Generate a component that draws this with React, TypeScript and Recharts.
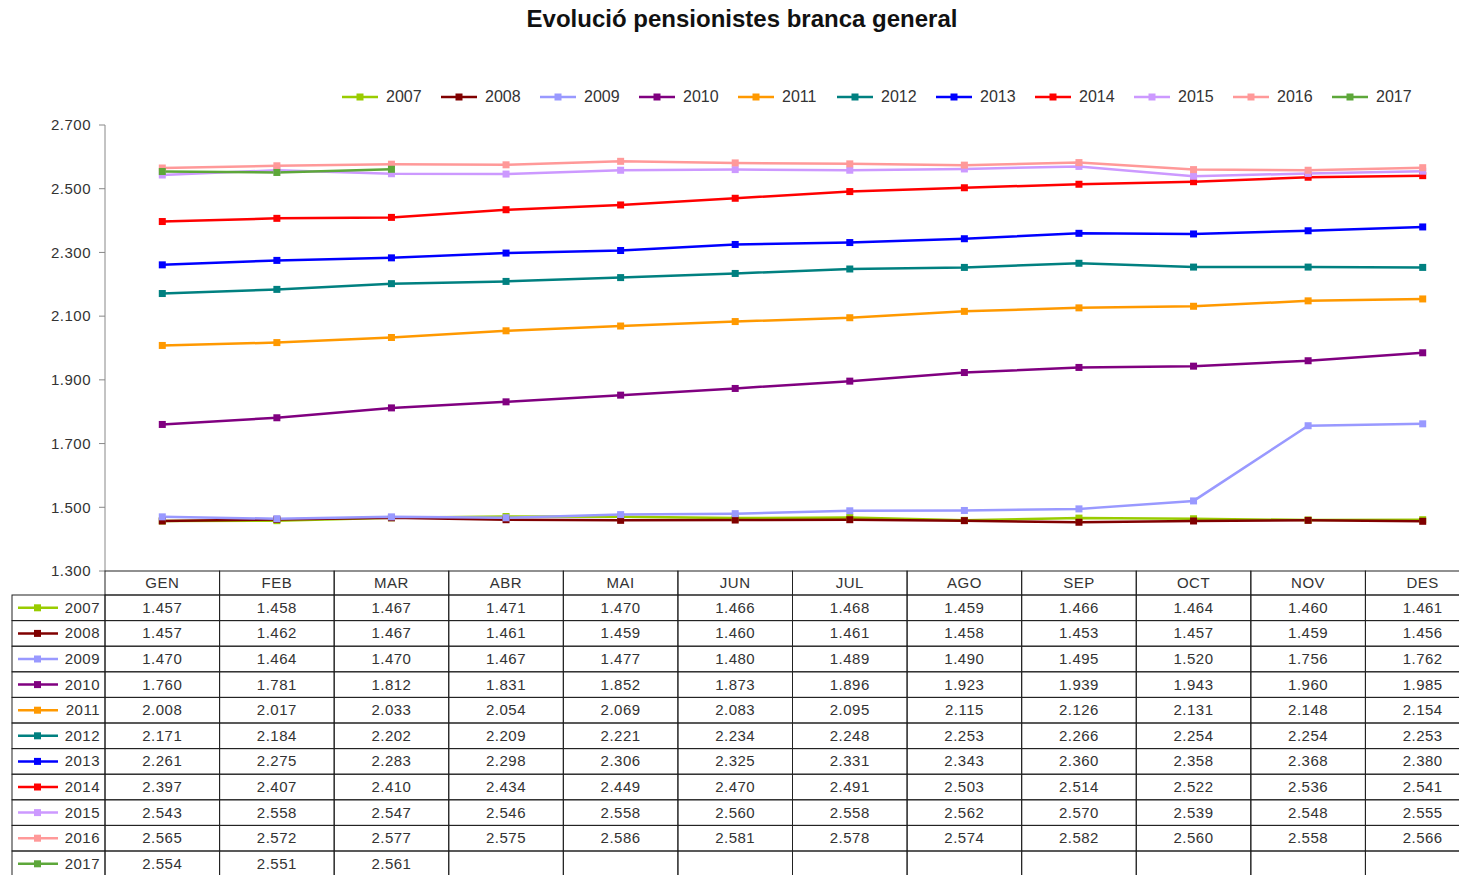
import React from 'react';
import { LineChart, Line, XAxis, YAxis, Legend } from 'recharts';

const months = ['GEN', 'FEB', 'MAR', 'ABR', 'MAI', 'JUN', 'JUL', 'AGO', 'SEP', 'OCT', 'NOV', 'DES'];
const years = ['2007', '2008', '2009', '2010', '2011', '2012', '2013', '2014', '2015', '2016', '2017'];
const colors = ['#99CC00', '#800000', '#9999FF', '#800080', '#FF9900', '#008080', '#0000FF', '#FF0000', '#CC99FF', '#FF9999', '#5DA73A'];

const v2007 = [1457, 1458, 1467, 1471, 1470, 1466, 1468, 1459, 1466, 1464, 1460, 1461];
const v2008 = [1457, 1462, 1467, 1461, 1459, 1460, 1461, 1458, 1453, 1457, 1459, 1456];
const v2009 = [1470, 1464, 1470, 1467, 1477, 1480, 1489, 1490, 1495, 1520, 1756, 1762];
const v2010 = [1760, 1781, 1812, 1831, 1852, 1873, 1896, 1923, 1939, 1943, 1960, 1985];
const v2011 = [2008, 2017, 2033, 2054, 2069, 2083, 2095, 2115, 2126, 2131, 2148, 2154];
const v2012 = [2171, 2184, 2202, 2209, 2221, 2234, 2248, 2253, 2266, 2254, 2254, 2253];
const v2013 = [2261, 2275, 2283, 2298, 2306, 2325, 2331, 2343, 2360, 2358, 2368, 2380];
const v2014 = [2397, 2407, 2410, 2434, 2449, 2470, 2491, 2503, 2514, 2522, 2536, 2541];
const v2015 = [2543, 2558, 2547, 2546, 2558, 2560, 2558, 2562, 2570, 2539, 2548, 2555];
const v2016 = [2565, 2572, 2577, 2575, 2586, 2581, 2578, 2574, 2582, 2560, 2558, 2566];
const v2017 = [2554, 2551, 2561, null, null, null, null, null, null, null, null, null];

const series = [v2007, v2008, v2009, v2010, v2011, v2012, v2013, v2014, v2015, v2016, v2017];
const yTicks = [1300, 1500, 1700, 1900, 2100, 2300, 2500, 2700];

const data = months.map((m, i) => {
  const row: any = { m };
  years.forEach((y, k) => { row['y' + y] = series[k][i]; });
  return row;
});

const W = 1500;
const H = 890;
const LEFT = 105;
const RIGHT = 20;
const cellW = (W - LEFT - RIGHT) / 12;
const HEAD_H = 24;
const ROW_H = 25.6;
const FONT = '"Liberation Sans", Arial, sans-serif';
const TXT = '#333';
const GRID = '#222';
const LS = 0.5;

const fmt = (v: number) => String(v).replace(/\B(?=(\d{3})+(?!\d))/g, '.');

const SquareDot = (props: any) => {
  const { cx, cy, stroke, index } = props;
  if (cy == null || cx == null) return <g key={index} />;
  return <rect key={index} x={cx - 3.5} y={cy - 3.5} width={7} height={7} fill={stroke} />;
};

const HeadTick = (props: any) => {
  const { x, y, payload } = props;
  return (
    <g>
      <rect x={x - cellW / 2} y={y} width={cellW} height={HEAD_H} fill="none" stroke={GRID} />
      <text x={x} y={y + 17} textAnchor="middle" fontSize={15} letterSpacing={LS} fill={TXT} fontFamily={FONT}>
        {payload.value}
      </text>
    </g>
  );
};

const rowTick = (k: number) => (props: any) => {
  const { x, y, payload } = props;
  const i = payload.index;
  const v = series[k][i];
  return (
    <g>
      <rect x={x - cellW / 2} y={y} width={cellW} height={ROW_H} fill="none" stroke={GRID} />
      {v != null && (
        <text x={x} y={y + ROW_H / 2 + 5} textAnchor="middle" fontSize={15} letterSpacing={LS} fill={TXT} fontFamily={FONT}>
          {fmt(v)}
        </text>
      )}
      {i === 0 && (
        <g>
          <rect x={12} y={y} width={LEFT - 12} height={ROW_H} fill="none" stroke={GRID} />
          <line x1={18} x2={58} y1={y + ROW_H / 2} y2={y + ROW_H / 2} stroke={colors[k]} strokeWidth={2.5} />
          <rect x={34} y={y + ROW_H / 2 - 3.5} width={7} height={7} fill={colors[k]} />
          <text x={100} y={y + ROW_H / 2 + 5} textAnchor="end" fontSize={15} letterSpacing={LS} fill={TXT} fontFamily={FONT}>
            {years[k]}
          </text>
        </g>
      )}
    </g>
  );
};

const renderLegend = (props: any) => (
  <div style={{ display: 'flex', fontFamily: FONT, fontSize: 16, color: TXT }}>
    {(props.payload || []).map((e: any) => (
      <div key={e.value} style={{ display: 'flex', alignItems: 'center', width: 99 }}>
        <svg width={36} height={10}>
          <line x1={0} x2={36} y1={5} y2={5} stroke={e.color} strokeWidth={2.5} />
          <rect x={14.5} y={1.5} width={7} height={7} fill={e.color} />
        </svg>
        <span style={{ marginLeft: 8 }}>{e.value}</span>
      </div>
    ))}
  </div>
);

export default function App() {
  return (
    <div style={{ position: 'absolute', left: 0, top: 0, width: 1459, height: 875, overflow: 'hidden', background: '#fff' }}>
      <div
        style={{
          position: 'absolute', top: 5, left: 0, width: 1484, textAlign: 'center',
          fontFamily: FONT, fontWeight: 'bold', fontSize: 24, color: '#111',
        }}
      >
        Evolució pensionistes branca general
      </div>
      <LineChart width={W} height={H} data={data} margin={{ top: 125, right: RIGHT, bottom: 13.4, left: 0 }}>
        <XAxis
          xAxisId="hdr"
          dataKey="m"
          scale="band"
          height={HEAD_H}
          interval={0}
          axisLine={false}
          tickLine={false}
          tickSize={0}
          tickMargin={0}
          tick={HeadTick}
        />
        {years.map((y, k) => (
          <XAxis
            key={y}
            xAxisId={'r' + y}
            dataKey="m"
            scale="band"
            height={ROW_H}
            interval={0}
            axisLine={false}
            tickLine={false}
            tickSize={0}
            tickMargin={0}
            tick={rowTick(k)}
          />
        ))}
        <YAxis
          width={LEFT}
          domain={[1300, 2700]}
          ticks={yTicks}
          interval={0}
          tickSize={6}
          tickMargin={8}
          stroke="#888"
          tick={{ fontSize: 15, fill: TXT, fontFamily: FONT, letterSpacing: LS }}
          tickFormatter={fmt}
        />
        <Legend
          layout="horizontal"
          verticalAlign="middle"
          content={renderLegend}
          wrapperStyle={{ top: 88, left: 342, width: 1110, height: 20 }}
        />
        {years.map((y, k) => (
          <Line
            key={y}
            xAxisId="hdr"
            dataKey={'y' + y}
            name={y}
            stroke={colors[k]}
            strokeWidth={2.5}
            dot={SquareDot}
            activeDot={false}
            isAnimationActive={false}
          />
        ))}
      </LineChart>
    </div>
  );
}
